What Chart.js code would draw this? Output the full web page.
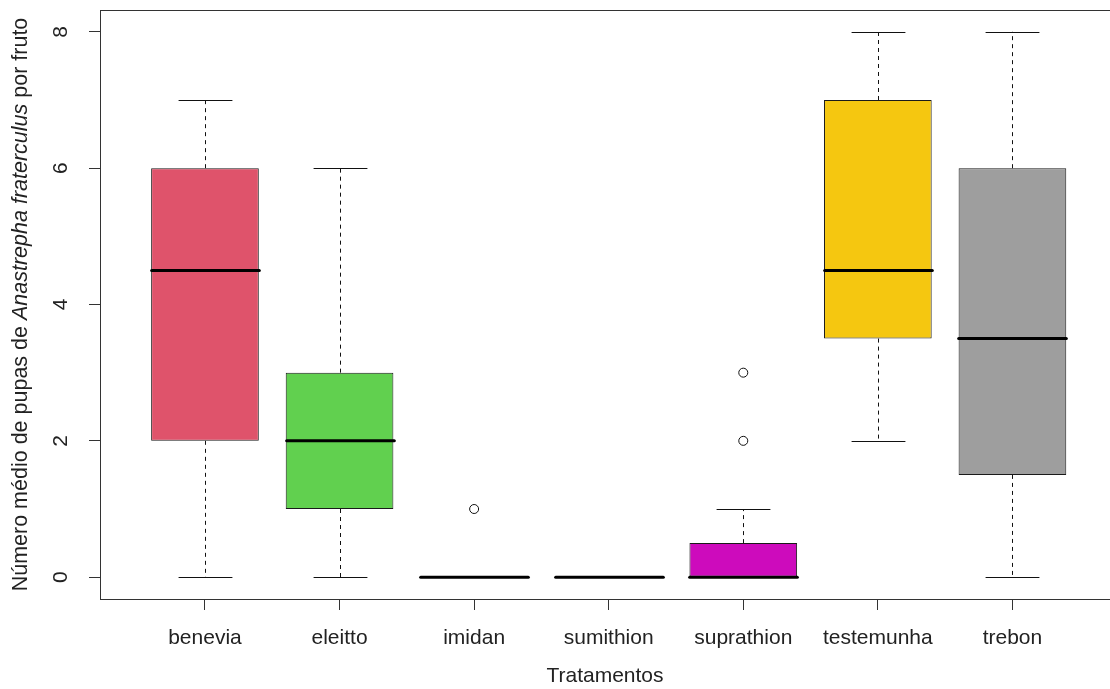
<!DOCTYPE html>
<html>
<head>
<meta charset="utf-8">
<script src="https://cdn.jsdelivr.net/npm/chart.js@4.4.1/dist/chart.umd.min.js"></script>
<style>
  html, body { margin: 0; padding: 0; background: #fff; }
  #wrap { width: 1110px; height: 689px; }
</style>
</head>
<body>
<div id="wrap"><canvas id="box-chart" width="1110" height="689"></canvas></div>
<script>
// treatments along the x axis
const tratamentos = ['benevia', 'eleitto', 'imidan', 'sumithion', 'suprathion', 'testemunha', 'trebon'];

// five-number summaries
const minimo   = [0,   0, 0, 0, 0,   2,   0];
const quartil1 = [2,   1, 0, 0, 0,   3.5, 1.5];
const mediana  = [4.5, 2, 0, 0, 0,   4.5, 3.5];
const quartil3 = [6,   3, 0, 0, 0.5, 7,   6];
const maximo   = [7,   6, 0, 0, 1,   8,   8];

// outliers (treatment position, value)
const outlierX = [3, 5, 5];
const outlierY = [1, 2, 3];

const yTicks = [0, 2, 4, 6, 8];
const cores = ['#DF536B', '#61D04F', '#2297E6', '#28E2E5', '#CD0BBC', '#F5C710', '#9E9E9E'];

const FONT = '"Liberation Sans", Arial, sans-serif';
const TEXT_COLOR = '#222';

// whiskers, staples and medians drawn on top of the box bars
const boxExtras = {
  id: 'boxExtras',
  afterDatasetsDraw(chart) {
    const ctx = chart.ctx;
    const xs = chart.scales.x;
    const ys = chart.scales.y;
    const bars = chart.getDatasetMeta(0).data;
    ctx.save();
    ctx.strokeStyle = '#111';
    tratamentos.forEach((t, i) => {
      const cx = Math.round(xs.getPixelForValue(i + 1)) + 0.5;
      const half = bars[i].width / 2;
      const pMin = ys.getPixelForValue(minimo[i]);
      const pQ1 = ys.getPixelForValue(quartil1[i]);
      const pMed = ys.getPixelForValue(mediana[i]);
      const pQ3 = ys.getPixelForValue(quartil3[i]);
      const pMax = ys.getPixelForValue(maximo[i]);

      // dashed whiskers
      ctx.lineWidth = 1;
      ctx.lineCap = 'butt';
      ctx.setLineDash([4, 4]);
      ctx.beginPath();
      if (maximo[i] > quartil3[i]) { ctx.moveTo(cx, pQ3); ctx.lineTo(cx, pMax); }
      if (minimo[i] < quartil1[i]) { ctx.moveTo(cx, pQ1); ctx.lineTo(cx, pMin); }
      ctx.stroke();
      ctx.setLineDash([]);

      // staples
      ctx.beginPath();
      ctx.moveTo(cx - half / 2, Math.round(pMax) + 0.5); ctx.lineTo(cx + half / 2, Math.round(pMax) + 0.5);
      ctx.moveTo(cx - half / 2, Math.round(pMin) + 0.5); ctx.lineTo(cx + half / 2, Math.round(pMin) + 0.5);
      ctx.stroke();

      // median
      ctx.lineWidth = 3;
      ctx.lineCap = 'round';
      ctx.strokeStyle = '#000';
      ctx.beginPath();
      ctx.moveTo(cx - half, pMed); ctx.lineTo(cx + half, pMed);
      ctx.stroke();
      ctx.strokeStyle = '#111';
    });
    ctx.restore();
  },
  afterDraw(chart) {
    const ctx = chart.ctx;
    const area = chart.chartArea;
    ctx.save();
    // plot frame (right edge falls on the canvas border, as in the source image)
    ctx.strokeStyle = '#333';
    ctx.lineWidth = 1;
    ctx.strokeRect(Math.round(area.left) + 0.5, Math.round(area.top) + 0.5,
      Math.round(area.right - area.left) + 2, Math.round(area.bottom - area.top));

    // y axis title with the species name in italics
    const parts = [
      { text: 'Número médio de pupas de ', italic: false },
      { text: 'Anastrepha fraterculus', italic: true },
      { text: ' por fruto', italic: false }
    ];
    const size = 21.5;
    let total = 0;
    parts.forEach(p => {
      ctx.font = (p.italic ? 'italic ' : '') + size + 'px ' + FONT;
      p.w = ctx.measureText(p.text).width;
      total += p.w;
    });
    const cy = (area.top + area.bottom) / 2;
    ctx.translate(27, cy);
    ctx.rotate(-Math.PI / 2);
    ctx.fillStyle = TEXT_COLOR;
    ctx.textBaseline = 'alphabetic';
    ctx.textAlign = 'left';
    let x = -total / 2;
    parts.forEach(p => {
      ctx.font = (p.italic ? 'italic ' : '') + size + 'px ' + FONT;
      ctx.fillText(p.text, x, 0);
      x += p.w;
    });
    ctx.restore();
  }
};

const boxData = tratamentos.map((t, i) => ({ x: i + 1, y: [quartil1[i], quartil3[i]] }));
const outlierData = outlierX.map((x, i) => ({ x: x, y: outlierY[i] }));

new Chart(document.getElementById('box-chart'), {
  type: 'bar',
  data: {
    datasets: [
      {
        label: 'caixas',
        data: boxData,
        backgroundColor: cores,
        borderColor: '#1a1a1a',
        borderWidth: 1,
        borderSkipped: false,
        barPercentage: 0.8,
        categoryPercentage: 1.0
      },
      {
        type: 'scatter',
        label: 'outliers',
        data: outlierData,
        pointStyle: 'circle',
        pointRadius: 4.5,
        pointBackgroundColor: 'rgba(0,0,0,0)',
        pointBorderColor: '#111',
        pointBorderWidth: 1
      }
    ]
  },
  options: {
    responsive: false,
    animation: false,
    layout: { autoPadding: false, padding: { left: 0, top: 10, right: 0, bottom: 0 } },
    plugins: {
      legend: { display: false },
      tooltip: { enabled: false }
    },
    scales: {
      x: {
        type: 'linear',
        // the source image is cropped just short of the right end of the axis range
        min: 0.22,
        max: 7.725,
        offset: false,
        afterBuildTicks: scale => { scale.ticks = tratamentos.map((t, i) => ({ value: i + 1 })); },
        afterFit: scale => {
          scale.height = 90;
          scale.paddingLeft = 0; scale.paddingRight = 0;
        },
        grid: { offset: false, drawOnChartArea: false, drawTicks: true, tickLength: 11, tickColor: '#333' },
        border: { display: false },
        ticks: {
          padding: 16,
          color: TEXT_COLOR,
          font: { family: FONT, size: 21 },
          maxRotation: 0,
          autoSkip: false,
          callback: v => tratamentos[v - 1]
        },
        title: {
          display: true,
          text: 'Tratamentos',
          color: TEXT_COLOR,
          font: { family: FONT, size: 21 },
          padding: { top: 0, bottom: 0 }
        }
      },
      y: {
        min: -0.32,
        max: 8.32,
        afterBuildTicks: scale => { scale.ticks = yTicks.map(v => ({ value: v })); },
        afterFit: scale => {
          scale.width = 100;
          scale.paddingTop = 0; scale.paddingBottom = 0;
        },
        grid: { drawOnChartArea: false, drawTicks: true, tickLength: 11, tickColor: '#333' },
        border: { display: false },
        ticks: {
          padding: 22,
          crossAlign: 'center',
          minRotation: 90,
          maxRotation: 90,
          color: TEXT_COLOR,
          font: { family: FONT, size: 21 }
        }
      }
    }
  },
  plugins: [boxExtras]
});
</script>
</body>
</html>
